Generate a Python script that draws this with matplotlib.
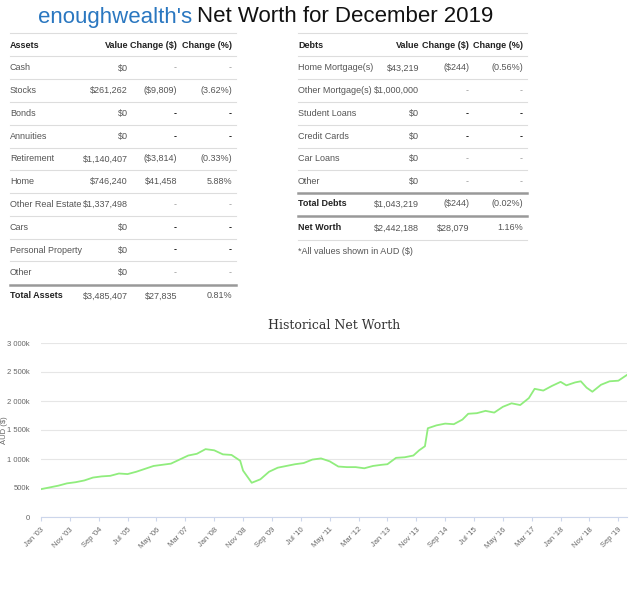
import matplotlib
matplotlib.use("Agg")
import matplotlib.pyplot as plt
import numpy as np

plt.rcParams['font.family'] = ['Liberation Sans', 'DejaVu Sans']

asset_names = ["Cash", "Stocks", "Bonds", "Annuities", "Retirement", "Home", "Other Real Estate",
               "Cars", "Personal Property", "Other"]
asset_values = ["$0", "$261,262", "$0", "$0", "$1,140,407", "$746,240", "$1,337,498", "$0", "$0", "$0"]
asset_chg = ["-", "($9,809)", "-", "-", "($3,814)", "$41,458", "-", "-", "-", "-"]
asset_pct = ["-", "(3.62%)", "-", "-", "(0.33%)", "5.88%", "-", "-", "-", "-"]
asset_total = ["Total Assets", "$3,485,407", "$27,835", "0.81%"]

debt_names = ["Home Mortgage(s)", "Other Mortgage(s)", "Student Loans", "Credit Cards", "Car Loans", "Other"]
debt_values = ["$43,219", "$1,000,000", "$0", "$0", "$0", "$0"]
debt_chg = ["($244)", "-", "-", "-", "-", "-"]
debt_pct = ["(0.56%)", "-", "-", "-", "-", "-"]
debt_total = ["Total Debts", "$1,043,219", "($244)", "(0.02%)"]
net_worth = ["Net Worth", "$2,442,188", "$28,079", "1.16%"]

# month index from Jan 2003, value in thousands AUD
nw_month = [0, 3, 6, 9, 12, 15, 18, 21, 24, 27, 30, 33, 36, 39, 42, 45, 48, 51, 54, 57,
            60, 63, 66, 69, 70, 73, 76, 79, 82, 85, 88, 91, 94, 97, 100, 103, 106, 109, 112, 115,
            118, 120, 123, 126, 129, 131, 133, 134, 137, 140, 143, 146, 148, 151, 154, 157, 160,
            163, 166, 169, 171, 174, 177, 180, 182, 185, 187, 189, 191, 194, 197, 200, 203]
nw_value = [480, 510, 540, 580, 600, 630, 680, 700, 710, 750, 740, 780, 830, 880, 900, 920,
            990, 1060, 1090, 1170, 1150, 1080, 1070, 970, 800, 590, 650, 780, 850, 880, 910, 930,
            990, 1010, 960, 870, 860, 860, 840, 880, 900, 910, 1020, 1030, 1060, 1150, 1220, 1530,
            1580, 1610, 1600, 1680, 1780, 1790, 1830, 1800, 1900, 1960, 1930, 2050, 2210, 2180,
            2260, 2330, 2270, 2320, 2340, 2230, 2160, 2280, 2340, 2350, 2450]
xtick_labels = ["Jan '03", "Nov '03", "Sep '04", "Jul '05", "May '06", "Mar '07", "Jan '08", "Nov '08",
                "Sep '09", "Jul '10", "May '11", "Mar '12", "Jan '13", "Nov '13", "Sep '14", "Jul '15",
                "May '16", "Mar '17", "Jan '18", "Nov '18", "Sep '19"]
ytick_vals = [0, 500, 1000, 1500, 2000, 2500, 3000]
ytick_labels = ["0", "500k", "1 000k", "1 500k", "2 000k", "2 500k", "3 000k"]

W, H = 640, 595
fig = plt.figure(figsize=(W/100, H/100), dpi=100)

def T(x, y, s, **kw):
    fig.text(x/W, 1 - y/H, s, va='center', fontsize=6.5, **kw)

def L(x0, x1, y, c='#dddddd', lw=0.8):
    fig.add_artist(plt.Line2D([x0/W, x1/W], [1-y/H, 1-y/H], color=c, lw=lw))

# Title
t1 = fig.text(38/W, 1-17/H, "enoughwealth's", color='#2a77c0', fontsize=16, va='center')
fig.canvas.draw()
bb = t1.get_window_extent(fig.canvas.get_renderer())
fig.text(bb.x1/W + 5/W, 1-17/H, "Net Worth for December 2019", color='#111111', fontsize=16, va='center')

grey = '#555555'
def table(x0, cols, x1, header, names, vals, chg, pct):
    L(x0, x1, 33)
    T(x0, 45, header, fontweight='bold', color='#222222')
    for cx, h in zip(cols, ["Value", "Change ($)", "Change (%)"]):
        T(cx, 45, h, ha='right', fontweight='bold', color='#222222')
    L(x0, x1, 56)
    for i, (n, v, c, p) in enumerate(zip(names, vals, chg, pct)):
        y = 68 + i*22.75
        T(x0, y, n, color=grey)
        T(cols[0], y, v, ha='right', color=grey)
        bold = (n not in ("Cash", "Other", "Other Real Estate", "Home Mortgage(s)", "Other Mortgage(s)", "Car Loans")) and c == '-'
        dc = '#111111' if bold else '#999999'
        T(cols[1], y, c, ha='right', color=grey if c != '-' else dc, fontweight='bold' if bold else 'normal')
        T(cols[2], y, p, ha='right', color=grey if p != '-' else dc, fontweight='bold' if bold else 'normal')
        if i < len(names) - 1:
            L(x0, x1, y + 11.4)

table(10, [128, 177, 232], 236, "Assets", asset_names, asset_values, asset_chg, asset_pct)
table(298, [419, 469, 523], 527, "Debts", debt_names, debt_values, debt_chg, debt_pct)

def total_row(x0, cols, x1, row, y, ly):
    L(x0, x1, ly, c='#999999', lw=1.8)
    T(x0, y, row[0], fontweight='bold', color='#222222')
    for cx, s in zip(cols, row[1:]):
        T(cx, y, s, ha='right', color=grey)

total_row(10, [128, 177, 232], 236, asset_total, 296, 285)
total_row(298, [419, 469, 523], 527, debt_total, 204, 193)
total_row(298, [419, 469, 523], 527, net_worth, 228, 216)
L(298, 527, 240)
T(298, 251, "*All values shown in AUD ($)", color=grey)

# Chart
ax = fig.add_axes([41/W, 1-517/H, 586/W, 174/H])
ax.plot(nw_month, nw_value, color='#90ed7d', lw=1.3)
ax.set_xlim(0, 203)
ax.set_ylim(0, 3000)
ax.set_yticks(ytick_vals)
ax.set_yticklabels(ytick_labels)
ax.set_xticks(np.arange(len(xtick_labels)) * 10)
ax.set_xticklabels(xtick_labels, rotation=45, ha='right', rotation_mode='anchor')
ax.tick_params(axis='y', length=0, labelsize=5.5, labelcolor='#666666', pad=8)
ax.tick_params(axis='x', length=3, color='#ccd6eb', labelsize=5.5, labelcolor='#666666')
ax.grid(axis='y', color='#e6e6e6', lw=0.8)
for s in ['top', 'right', 'left']:
    ax.spines[s].set_visible(False)
ax.spines['bottom'].set_color('#ccd6eb')
ax.set_ylabel("AUD ($)", fontsize=5.5, color='#666666')
ax.yaxis.set_label_coords(-33/586, 0.5)
ax.set_title("Historical Net Worth", fontsize=9, color='#333333', pad=10, family='DejaVu Serif')

fig.savefig("out.png", dpi=100, facecolor='white')
